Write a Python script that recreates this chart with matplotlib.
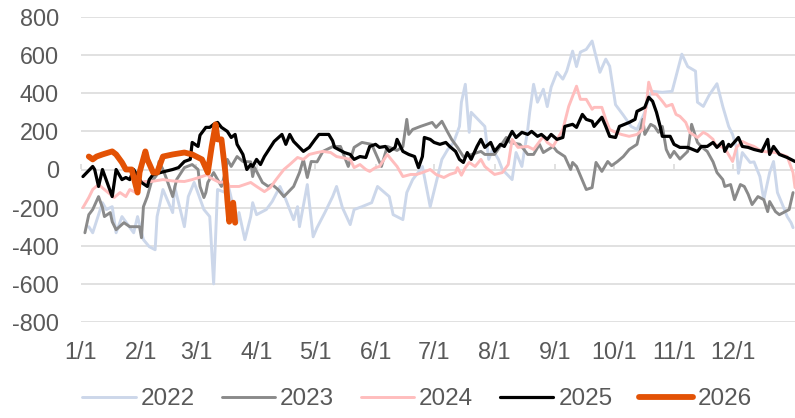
import matplotlib
matplotlib.use("Agg")
import matplotlib.pyplot as plt

plt.rcParams['font.family'] = ['Liberation Sans', 'DejaVu Sans']

month_days = [0, 31, 59, 90, 120, 151, 181, 212, 243, 273, 304, 334]
month_labels = ['1/1', '2/1', '3/1', '4/1', '5/1', '6/1', '7/1', '8/1', '9/1', '10/1', '11/1', '12/1']
y_ticks = [-800, -600, -400, -200, 0, 200, 400, 600, 800]

days_2022 = [4,6,11,13,16,18,21,27,29,32,35,38,39,42,47,48,53,55,58,63,66,68,70,74,75,80,81,84,87,88,
             90,95,98,102,105,109,111,112,116,119,121,125,129,131,134,138,140,144,149,152,158,160,165,167,170,174,175,179,185,188,
             191,194,195,197,199,200,205,207,209,211,214,216,221,223,226,229,230,232,234,237,239,241,244,247,249,252,254,256,259,262,
             266,269,271,274,278,282,285,289,291,293,298,303,308,311,315,316,319,322,326,329,332,334,336,337,339,343,345,348,350,353,
             355,357,360,362,364,365]
vals_2022 = [-300,-332,-174,-210,-195,-332,-247,-332,-247,-368,-405,-421,-247,-105,-226,-89,-300,-142,-68,-210,
             -247,-600,-105,-121,-63,-279,-226,-368,-247,-174,-237,-210,-168,-89,-158,-263,-195,-300,-79,-353,
             -305,-226,-142,-89,-200,-289,-210,-195,-174,-89,-142,-237,-263,-121,-53,0,16,-195,53,105,
             142,226,353,447,195,300,247,226,53,105,53,0,-53,89,16,210,300,447,353,421,
             330,432,510,474,516,621,540,616,630,674,510,579,542,340,285,226,210,300,379,410,
             405,410,605,540,516,353,331,390,450,330,226,184,116,-20,89,37,40,-37,-158,-16,
             42,-121,-195,-247,-279,-305]

days_2023 = [2,4,6,9,11,12,15,16,18,22,25,30,31,32,34,36,39,40,42,44,47,49,53,57,60,61,63,64,65,68,
             72,74,75,77,80,83,87,88,89,93,96,98,101,104,106,109,112,114,116,118,121,124,126,129,133,137,140,144,149,154,
             157,162,165,167,168,170,174,180,182,185,188,190,193,196,199,205,207,212,218,220,225,229,232,235,237,242,244,248,251,252,
             254,259,262,264,267,270,272,275,278,281,285,288,289,292,294,296,298,300,302,304,307,311,313,316,318,321,324,326,329,330,
             333,335,338,340,342,344,347,350,352,353,356,358,361,363,365]
vals_2023 = [-332,-237,-210,-142,-200,-247,-226,-274,-316,-279,-300,-300,-358,-195,-142,-68,-26,42,0,-53,
             -142,-53,10,26,0,-89,-147,-121,-68,-16,-89,-16,53,16,68,42,40,-37,10,-68,
             -89,-79,-105,-142,-121,-89,-16,53,-42,42,40,95,105,120,121,16,116,142,132,16,
             121,100,120,263,184,210,226,247,221,253,195,158,116,68,75,95,79,79,168,142,
             132,79,79,132,89,121,95,68,0,37,16,-105,-95,37,-10,42,20,42,68,105,
             132,263,184,237,226,195,226,105,63,95,55,95,237,142,120,95,40,-16,-53,-89,
             -79,-158,-79,-89,-130,-184,-142,-158,-221,-168,-221,-237,-221,-210,-121]

days_2024 = [1,4,6,9,12,17,20,23,25,28,30,33,36,42,47,53,57,62,65,66,71,75,76,81,85,87,90,94,97,100,
             104,107,111,114,117,121,124,128,131,135,138,140,143,146,148,151,153,157,159,162,165,169,172,175,179,182,186,189,192,193,
             195,197,199,202,205,207,210,212,216,219,221,224,229,232,237,239,242,247,250,254,256,259,262,263,267,269,271,274,277,281,
             285,288,290,291,293,295,298,300,303,305,307,310,312,316,319,321,324,325,329,331,334,336,339,342,345,349,356,359,362,365,
             366]
vals_2024 = [-200,-147,-105,-79,-105,-147,-121,-142,-105,-121,-68,-63,-63,-53,-60,-63,-53,-37,-26,-42,
             -68,-63,-89,-89,-75,-68,-89,-116,-95,-53,0,26,63,53,79,89,95,89,68,60,
             53,10,26,0,-10,10,16,79,53,16,-37,-26,-26,-16,0,-26,-42,-26,-16,10,
             -30,10,37,16,53,16,-10,-26,-16,26,158,116,121,105,174,142,121,210,331,437,
             368,368,316,326,326,263,210,195,184,174,184,210,358,458,395,395,358,331,342,289,
             279,247,195,168,195,184,158,132,116,95,42,116,147,132,121,95,89,79,68,-16,
             -95]

days_2025 = [1,6,7,9,11,16,18,21,23,25,27,31,34,35,37,43,47,50,53,56,57,60,61,64,66,68,70,72,75,77,
             79,80,83,85,87,88,90,92,94,98,99,103,105,107,109,114,117,120,122,127,129,130,135,138,140,143,146,148,151,153,
             156,158,161,162,165,168,171,173,175,176,179,181,184,187,189,192,194,196,198,200,203,205,207,210,212,215,217,221,223,226,
             229,231,234,236,239,241,244,247,248,252,254,257,259,262,263,267,269,271,274,276,281,284,285,289,291,293,295,297,298,302,
             304,307,311,316,318,321,324,326,329,330,332,333,337,339,342,345,349,352,353,355,358,362,366]
vals_2025 = [-37,16,0,-89,0,-142,0,-53,-42,-53,0,-68,-89,-53,-26,-10,0,10,42,53,
             142,121,180,221,221,237,247,221,200,168,184,132,79,0,26,16,53,26,68,132,
             147,184,132,184,147,95,116,158,184,184,150,116,89,79,53,68,63,121,132,116,
             121,95,116,158,95,79,68,10,68,168,158,142,132,142,121,95,53,37,89,53,
             121,158,116,142,95,132,121,200,168,195,184,200,174,184,158,184,158,168,226,237,
             221,289,263,253,226,274,226,174,168,226,247,263,305,326,379,358,300,221,174,174,
             132,116,116,95,121,121,142,116,147,95,132,121,168,121,116,105,95,158,79,121,
             79,63,42]

days_2026 = [4,6,8,11,16,18,21,23,26,29,30,33,34,37,39,42,47,53,57,62,65,67,69,70,72,74,75,76,78,79]
vals_2026 = [68,53,68,79,95,79,37,0,0,-121,-16,95,53,-16,-16,68,79,89,79,53,-16,121,237,158,158,-16,-158,-274,-174,-279]

series = [
    ('2022', days_2022, vals_2022, '#CCD7EA', 2.1),
    ('2023', days_2023, vals_2023, '#8A8A8A', 2.1),
    ('2024', days_2024, vals_2024, '#FFBDBD', 2.1),
    ('2025', days_2025, vals_2025, '#000000', 2.3),
    ('2026', days_2026, vals_2026, '#E35205', 4.2),
]

fig = plt.figure(figsize=(7.95, 4.18), dpi=100)
ax = fig.add_axes([81/795, 1 - 322/418, (795 - 81)/795, (322 - 17)/418])

grid_c = '#D9D9D9'
text_c = '#595959'

for name, d, v, c, lw in series:
    ax.plot(d, v, color=c, lw=lw, label=name, solid_joinstyle='round', solid_capstyle='round')

ax.set_xlim(0, 366)
ax.set_ylim(-800, 800)
ax.set_yticks(y_ticks)
ax.set_yticklabels([str(t) for t in y_ticks])
ax.yaxis.grid(True, color=grid_c, lw=1.1)
ax.set_axisbelow(True)
for s in ax.spines.values():
    s.set_visible(False)
ax.tick_params(axis='y', length=0, pad=16, labelsize=16.8, labelcolor=text_c)
ax.set_xticks(month_days)
ax.set_xticklabels(month_labels)
ax.tick_params(axis='x', length=0, pad=14, labelsize=16.8, labelcolor=text_c)

sec = ax.secondary_xaxis(0.5)
sec.set_xticks(month_days)
sec.set_xticklabels([])
sec.tick_params(axis='x', direction='out', length=3.5, width=1.1, color=grid_c)
sec.spines['bottom'].set_color(grid_c)
sec.spines['bottom'].set_linewidth(1.1)
for k in ('top', 'left', 'right'):
    if k in sec.spines:
        sec.spines[k].set_visible(False)

leg = fig.legend(loc='center', bbox_to_anchor=(417/795, 1 - 399/418), ncol=5, frameon=False,
                 fontsize=17.5, handlelength=2.2, handletextpad=0.2, columnspacing=1.1,
                 labelcolor=text_c)

fig.savefig('out.png', dpi=100)
